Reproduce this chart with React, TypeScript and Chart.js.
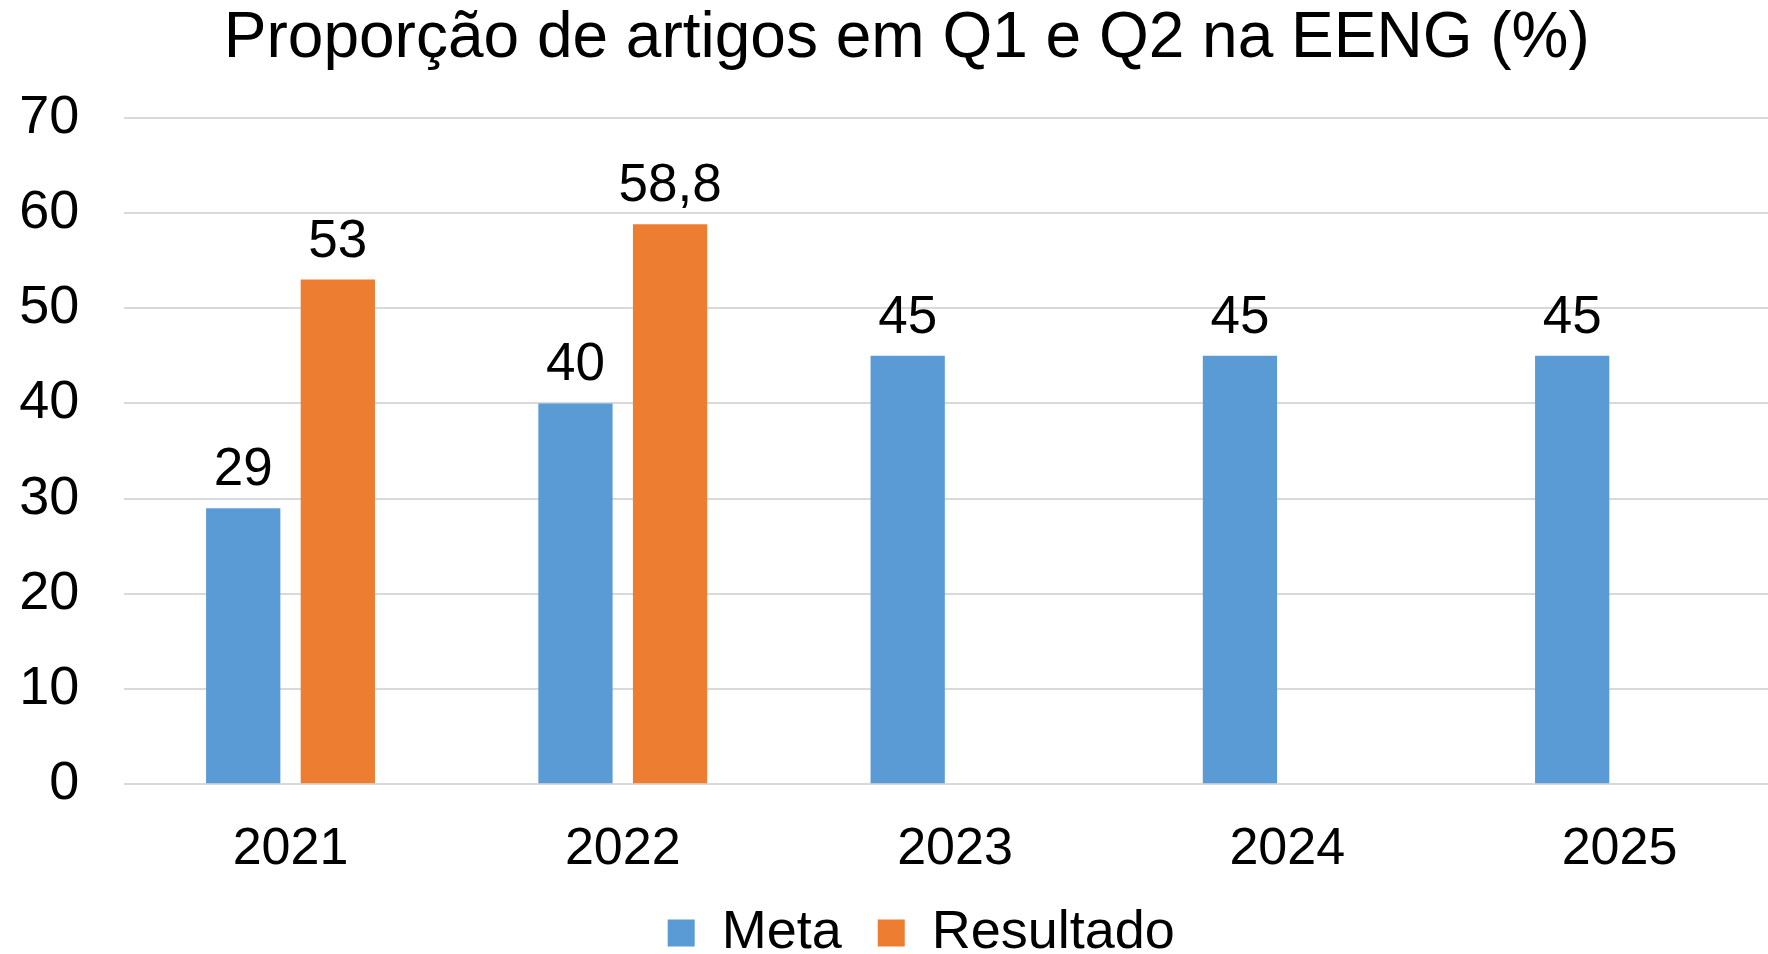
import { useEffect, useRef } from "react";
import { Chart, registerables } from "chart.js";

Chart.register(...registerables);

// ---- data ----
const categories = ["2021", "2022", "2023", "2024", "2025"];
const seriesNames = ["Meta", "Resultado"];
const metaValues = [29, 40, 45, 45, 45];
const resultadoValues: (number | null)[] = [53, 58.8, null, null, null];
const yTickValues = [0, 10, 20, 30, 40, 50, 60, 70];
const titleText = "Proporção de artigos em Q1 e Q2 na EENG (%)";

const FONT = "'Liberation Sans', Arial, Helvetica, sans-serif";
const BLUE = "#5B9BD5";
const ORANGE = "#ED7D31";

const formatValue = (v: number) => String(v).replace(".", ",");

const valueLabels = {
  id: "valueLabels",
  afterDatasetsDraw(chart: any) {
    const ctx = chart.ctx;
    ctx.save();
    ctx.font = `53px ${FONT}`;
    ctx.fillStyle = "#000";
    ctx.textAlign = "center";
    ctx.textBaseline = "alphabetic";
    chart.data.datasets.forEach((ds: any, i: number) => {
      const meta = chart.getDatasetMeta(i);
      meta.data.forEach((el: any, j: number) => {
        const v = ds.data[j];
        if (v == null) return;
        ctx.fillText(formatValue(v), el.x, el.y - 23);
      });
    });
    ctx.restore();
  },
};

// nudge the legend and title slightly right, as in the reference
const boxShift = {
  id: "boxShift",
  afterLayout(chart: any) {
    if (chart.legend) {
      chart.legend.left += 21.5;
      chart.legend.right += 21.5;
    }
    if (chart.titleBlock) {
      chart.titleBlock.left += 7;
      chart.titleBlock.right += 7;
    }
  },
};

export default function App() {
  const ref = useRef<HTMLCanvasElement>(null);

  useEffect(() => {
    if (!ref.current) return;
    const chart = new Chart(ref.current, {
      type: "bar",
      data: {
        labels: categories,
        datasets: [
          {
            label: seriesNames[0],
            data: metaValues,
            backgroundColor: BLUE,
            borderWidth: 0,
            categoryPercentage: 0.5695,
            barPercentage: 0.785,
          },
          {
            label: seriesNames[1],
            data: resultadoValues,
            backgroundColor: ORANGE,
            borderWidth: 0,
            categoryPercentage: 0.5695,
            barPercentage: 0.785,
          },
        ],
      },
      options: {
        animation: false,
        responsive: false,
        devicePixelRatio: 1,
        layout: { padding: { left: 14, right: 24.4, top: 0, bottom: 0 } },
        font: { family: FONT },
        plugins: {
          title: {
            display: true,
            text: titleText,
            color: "#000",
            font: { family: FONT, size: 64, weight: "normal", lineHeight: 1.08 },
            padding: { top: 5, bottom: 43.6 },
          },
          legend: {
            display: true,
            position: "bottom",
            labels: {
              boxWidth: 27,
              boxHeight: 27,
              padding: 36,
              color: "#000",
              font: { family: FONT, size: 54 },
            },
          },
          tooltip: { enabled: false },
        },
        scales: {
          x: {
            grid: { display: false, drawTicks: false },
            border: { display: false },
            ticks: {
              color: "#000",
              padding: 34,
              font: { family: FONT, size: 52 },
            },
            afterFit: (scale: any) => {
              scale.height = 85.7;
            },
          },
          y: {
            min: 0,
            max: 70,
            afterBuildTicks: (scale: any) => {
              scale.ticks = yTickValues.map((v) => ({ value: v }));
            },
            grid: { color: "#d9d9d9", lineWidth: 2, drawTicks: false },
            border: { display: false },
            ticks: {
              color: "#000",
              padding: 45,
              font: { family: FONT, size: 54 },
            },
            afterFit: (scale: any) => {
              scale.width = 110.4;
            },
          },
        },
      },
      plugins: [valueLabels, boxShift],
    });
    return () => chart.destroy();
  }, []);

  return (
    <div
      style={{
        position: "fixed",
        left: 0,
        top: 0,
        width: 1768,
        height: 954,
        overflow: "hidden",
        background: "#fff",
      }}
    >
      <canvas
        ref={ref}
        width={1810}
        height={970}
        style={{ display: "block", width: 1810, height: 970 }}
      />
    </div>
  );
}
